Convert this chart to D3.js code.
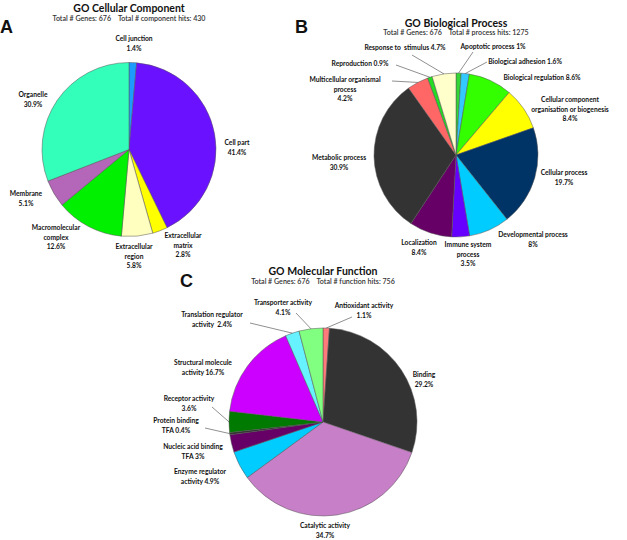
<!DOCTYPE html>
<html>
<head>
<meta charset="utf-8">
<script src="https://cdn.jsdelivr.net/npm/d3@7"></script>
<style>
  body { margin: 0; background: #fff; }
  text { font-family: Lato, "Open Sans", sans-serif; fill: #111; }
  .title { font-weight: 700; font-size: 10.5px; }
  .sub { font-weight: 600; font-size: 7.1px; fill: #333; }
  .lab { font-weight: 700; font-size: 6.7px; }
  .letter { font-family: "Liberation Sans", Arial, sans-serif; font-weight: 700; font-size: 18px; fill: #111; }
</style>
</head>
<body>
<svg id="drawing_region"></svg>
<script>
// Panel A: GO Cellular Component
const ccNames  = ["Cell junction", "Cell part", "Extracellular matrix", "Extracellular region", "Macromolecular complex", "Membrane", "Organelle"];
const ccValues = [1.4, 41.4, 2.8, 5.8, 12.6, 5.1, 30.9];
const ccColors = ["#1e9bff", "#6a12ff", "#ffff00", "#ffffbf", "#00f000", "#b466b8", "#33ffbb"];
const ccLines  = [["Cell junction", "1.4%"], ["Cell part", "41.4%"], ["Extracellular", "matrix", "2.8%"], ["Extracellular", "region", "5.8%"], ["Macromolecular", "complex", "12.6%"], ["Membrane", "5.1%"], ["Organelle", "30.9%"]];

// Panel B: GO Biological Process
const bpNames  = ["Apoptotic process", "Biological adhesion", "Biological regulation", "Cellular component organisation or biogenesis", "Cellular process", "Developmental process", "Immune system process", "Localization", "Metabolic process", "Multicellular organismal process", "Reproduction", "Response to stimulus"];
const bpValues = [1, 1.6, 8.6, 8.4, 19.7, 8, 3.5, 8.4, 30.9, 4.2, 0.9, 4.7];
const bpColors = ["#33d633", "#33c8ff", "#33ff00", "#ffff00", "#003366", "#00ccff", "#6600ff", "#660066", "#333333", "#ff6666", "#22dd22", "#ffffcc"];
const bpLines  = [["Apoptotic process 1%"], ["Biological adhesion 1.6%"], ["Biological regulation 8.6%"], ["Cellular component", "organisation or biogenesis", "8.4%"], ["Cellular process", "19.7%"], ["Developmental process", "8%"], ["Immune system", "process", "3.5%"], ["Localization", "8.4%"], ["Metabolic process", "30.9%"], ["Multicellular organismal", "process", "4.2%"], ["Reproduction 0.9%"], ["Response to  stimulus 4.7%"]];

// Panel C: GO Molecular Function
const mfNames  = ["Antioxidant activity", "Binding", "Catalytic activity", "Enzyme regulator activity", "Nucleic acid binding TFA", "Protein binding TFA", "Receptor activity", "Structural molecule activity", "Translation regulator activity", "Transporter activity"];
const mfValues = [1.1, 29.2, 34.7, 4.9, 3, 0.4, 3.6, 16.7, 2.4, 4.1];
const mfColors = ["#ff7a7a", "#333333", "#c77fc7", "#00ccff", "#660066", "#333333", "#007a00", "#cc00ff", "#66f2ff", "#80ff80"];
const mfLines  = [["Antioxidant activity", "1.1%"], ["Binding", "29.2%"], ["Catalytic activity", "34.7%"], ["Enzyme regulator", "activity 4.9%"], ["Nucleic acid binding", "TFA 3%"], ["Protein binding", "TFA 0.4%"], ["Receptor activity", "3.6%"], ["Structural molecule", "activity 16.7%"], ["Translation regulator", "activity  2.4%"], ["Transporter activity", "4.1%"]];

const svg = d3.select('#drawing_region')
    .attr('width', 627)
    .attr('height', 540);

// label placement (relative to pie centre) and optional leader start points
const panels = [
    {
        letter: "A", letterX: 0, letterY: 33,
        title: "GO Cellular Component", sub: "Total # Genes: 676    Total # component hits: 430",
        cx: 129, cy: 149.5, r: 87, titleY: 8, subY: 19,
        values: ccValues, colors: ccColors, lines: ccLines,
        labelPos: [[5, -110.5], [108, -6.5], [54, 86.5], [5, 97.5], [-73, 78.5], [-103, 44.5], [-96, -54.5]],
        leaders: {}
    },
    {
        letter: "B", letterX: 295, letterY: 33,
        title: "GO Biological Process", sub: "Total # Genes: 676    Total # process hits: 1275",
        cx: 456, cy: 155, r: 82, titleY: 23, subY: 33,
        values: bpValues, colors: bpColors, lines: bpLines,
        labelPos: [[37, -108], [69, -93], [86, -77], [114, -55], [108, 18], [77, 80], [12, 90], [-37, 88], [-117, 3], [-111, -75], [-96, -91], [-51, -107]],
        leaders: {0: [17, -103], 1: [31, -93], 9: [-64, -74], 10: [-60, -90], 11: [-44, -100]}
    },
    {
        letter: "C", letterX: 180, letterY: 287,
        title: "GO Molecular Function", sub: "Total # Genes: 676    Total # function hits: 756",
        cx: 323, cy: 422, r: 94, titleY: 271, subY: 282,
        values: mfValues, colors: mfColors, lines: mfLines,
        labelPos: [[41, -116], [101, -47], [2, 104], [-123, 50], [-130, 25], [-147, -1], [-134, -23], [-120, -59], [-111, -107], [-40, -119]],
        leaders: {0: [29, -105], 5: [-118, 6], 6: [-111, -15], 8: [-73, -99], 9: [-27, -109]}
    }
];

const pie = d3.pie().sort(null).value(d => d);

panels.forEach(p => {
    svg.append('text')
        .attr('class', 'letter')
        .attr('x', p.letterX)
        .attr('y', p.letterY)
        .text(p.letter);

    svg.append('text')
        .attr('class', 'title')
        .attr('text-anchor', 'middle')
        .attr('x', p.cx)
        .attr('y', p.titleY)
        .attr('dy', '0.35em')
        .text(p.title);

    svg.append('text')
        .attr('class', 'sub')
        .attr('text-anchor', 'middle')
        .attr('x', p.cx)
        .attr('y', p.subY)
        .attr('dy', '0.35em')
        .attr('xml:space', 'preserve')
        .style('white-space', 'pre')
        .text(p.sub);

    const g = svg.append('g')
        .attr('transform', `translate(${p.cx},${p.cy})`);

    const arc = d3.arc().innerRadius(0).outerRadius(p.r);
    const arcs = pie(p.values);

    g.selectAll('path')
        .data(arcs)
        .enter()
        .append('path')
        .attr('d', arc)
        .attr('fill', (d, i) => p.colors[i])
        .attr('stroke', '#555')
        .attr('stroke-width', 0.5);

    // leader lines from label to slice edge
    Object.keys(p.leaders).forEach(k => {
        const a = arcs[k];
        const mid = (a.startAngle + a.endAngle) / 2;
        const s = p.leaders[k];
        g.append('line')
            .attr('x1', s[0]).attr('y1', s[1])
            .attr('x2', Math.sin(mid) * p.r).attr('y2', -Math.cos(mid) * p.r)
            .attr('stroke', '#444')
            .attr('stroke-width', 0.6);
    });

    p.lines.forEach((ls, i) => {
        const t = g.append('text')
            .attr('class', 'lab')
            .attr('text-anchor', 'middle')
            .attr('xml:space', 'preserve')
            .style('white-space', 'pre');
        ls.forEach((l, j) => {
            t.append('tspan')
                .attr('x', p.labelPos[i][0])
                .attr('y', p.labelPos[i][1] + j * 9.4)
                .attr('dy', '0.35em')
                .text(l);
        });
    });
});
</script>
</body>
</html>
